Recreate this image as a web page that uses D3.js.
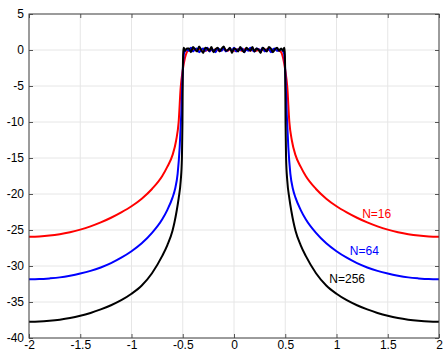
<!DOCTYPE html>
<html>
<head>
<meta charset="utf-8">
<script src="https://cdn.jsdelivr.net/npm/d3@7"></script>
<style>
  body { margin: 0; background: #fff; }
  svg text { font-family: "Liberation Sans", Arial, Helvetica, sans-serif; }
</style>
</head>
<body>
<div id="chart"></div>
<script>
// tick values
const xTicks = [-2, -1.5, -1, -0.5, 0, 0.5, 1, 1.5, 2];
const yTicks = [5, 0, -5, -10, -15, -20, -25, -30, -35, -40];

// passband noise (x from -0.44 to 0.44, step 0.02)
const redFlat = [0.0,-0.1,0.1,0.0,-0.1,0.1,0.0,0.1,-0.1,0.0, 0.1,0.0,-0.1,0.1,0.0,-0.1,0.0,0.1,0.0,-0.1,
  0.1,0.0,-0.1,0.0,0.1,0.0,-0.1,0.1,0.0,0.0, -0.1,0.1,0.0,-0.1,0.1,0.0,0.0,-0.1,0.1,0.0, -0.1,0.0,0.1,0.0,-0.1];
const blueFlat = [-0.1,0.3,-0.2,0.1,0.2,-0.3,0.0,0.2,-0.1,0.3, -0.2,0.1,0.0,-0.3,0.2,0.1,-0.1,0.3,-0.2,0.0,
  0.2,-0.1,0.3,-0.2,0.1,0.0,0.2,-0.3,0.1,-0.1, 0.3,0.0,-0.2,0.2,0.1,-0.1,0.3,-0.2,0.0,0.2, -0.3,0.1,0.2,-0.1,0.0];
const blackFlat = [0.2,-0.3,0.4,0.1,-0.2,0.5,0.0,-0.4,0.3,0.2, -0.1,0.4,-0.3,0.1,0.3,-0.2,0.2,0.5,-0.1,0.0,
  0.3,-0.4,0.2,0.1,-0.2,0.4,0.0,-0.3,0.3,0.1, -0.1,0.4,-0.2,0.2,0.0,-0.4,0.3,0.1,-0.2,0.4, 0.2,-0.3,0.1,0.3,-0.1];

// band edge (right side, the picture is symmetric)
const redEdgeX = [0.46, 0.48, 0.5, 0.52, 0.54, 0.565, 0.6, 0.65];
const redEdgeY = [-0.3, -1.2, -2.8, -5.2, -10, -12.6, -14.6, -16.2];
const blueEdgeX = [0.46, 0.48, 0.49, 0.5, 0.515, 0.53, 0.55, 0.575, 0.6, 0.65];
const blueEdgeY = [0.1, -0.2, -0.6, -3, -9, -13.5, -17.2, -19.3, -20.5, -22.2];
const blackEdgeX = [0.46, 0.48, 0.49, 0.495, 0.5, 0.503, 0.508, 0.52, 0.54, 0.56, 0.58, 0.6, 0.65];
const blackEdgeY = [0.2, -0.1, 0.3, -0.3, -4, -10, -15, -18.2, -20.6, -22.4, -23.9, -25.1, -27.1];

// stopband tails
const tailX = [0.7, 0.8, 0.9, 1.0, 1.1, 1.2, 1.3, 1.4, 1.5, 1.6, 1.7, 1.8, 1.9, 2.0];
const redTail = [-17.5, -19.3, -20.65, -21.7, -22.55, -23.3, -23.95, -24.5, -24.95, -25.3, -25.58, -25.78, -25.9, -25.95];
const blueTail = [-23.5, -25.4, -26.85, -27.95, -28.85, -29.6, -30.2, -30.68, -31.05, -31.35, -31.58, -31.72, -31.82, -31.85];
const blackTail = [-28.6, -31.0, -32.7, -33.85, -34.75, -35.45, -36.03, -36.52, -36.92, -37.23, -37.45, -37.6, -37.7, -37.73];

const labels = [
  {text: "N=16", x: 1.25, y: -23.3, color: "#ff0000"},
  {text: "N=64", x: 1.13, y: -28.5, color: "#0000ff"},
  {text: "N=256", x: 0.93, y: -32.4, color: "#000000"}
];

function buildSeries(flat, edgeX, edgeY, tailY) {
  const rx = edgeX.concat(tailX);
  const ry = edgeY.concat(tailY);
  const right = rx.map((x, i) => [x, ry[i]]);
  const left = right.map(d => [-d[0], d[1]]).reverse();
  const mid = flat.map((v, i) => [-0.44 + 0.02 * i, v]);
  return left.concat(mid, right);
}

const series = [
  {color: "#ff0000", pts: buildSeries(redFlat, redEdgeX, redEdgeY, redTail)},
  {color: "#0000ff", pts: buildSeries(blueFlat, blueEdgeX, blueEdgeY, blueTail)},
  {color: "#000000", pts: buildSeries(blackFlat, blackEdgeX, blackEdgeY, blackTail)}
];

const width = 443, height = 352;
const margin = {top: 14, right: 4, bottom: 14, left: 29};
const w = width - margin.left - margin.right;
const h = height - margin.top - margin.bottom;

const svg = d3.select("#chart").append("svg")
  .attr("width", width)
  .attr("height", height);

const g = svg.append("g")
  .attr("transform", `translate(${margin.left},${margin.top})`);

const x = d3.scaleLinear().domain([-2, 2]).range([0, w]);
const y = d3.scaleLinear().domain([-40, 5]).range([h, 0]);

// grid
g.append("g")
  .selectAll("line.vg")
  .data(xTicks)
  .enter().append("line")
  .attr("x1", d => x(d)).attr("x2", d => x(d))
  .attr("y1", 0).attr("y2", h)
  .attr("stroke", "#e6e6e6");

g.append("g")
  .selectAll("line.hg")
  .data(yTicks)
  .enter().append("line")
  .attr("x1", 0).attr("x2", w)
  .attr("y1", d => y(d)).attr("y2", d => y(d))
  .attr("stroke", "#e6e6e6");

// curves
const line = d3.line()
  .x(d => x(d[0]))
  .y(d => y(d[1]))
  .curve(d3.curveMonotoneX);

g.selectAll("path.curve")
  .data(series)
  .enter().append("path")
  .attr("class", "curve")
  .attr("d", d => line(d.pts))
  .attr("fill", "none")
  .attr("stroke", d => d.color)
  .attr("stroke-width", 2)
  .attr("stroke-linejoin", "round");

// axes, ticks point inward
const fmt = d => String(d);

g.append("g")
  .attr("transform", `translate(0,${h})`)
  .call(d3.axisBottom(x).tickValues(xTicks).tickSize(-4).tickPadding(2).tickFormat(fmt));

g.append("g")
  .call(d3.axisLeft(y).tickValues(yTicks).tickSize(-4).tickPadding(5).tickFormat(fmt));

g.append("g")
  .call(d3.axisTop(x).tickValues(xTicks).tickSize(-4).tickFormat(""));

g.append("g")
  .attr("transform", `translate(${w},0)`)
  .call(d3.axisRight(y).tickValues(yTicks).tickSize(-4).tickFormat(""));

g.selectAll(".domain").remove();
g.selectAll(".tick line").attr("stroke", "#555");
g.selectAll(".tick text")
  .attr("font-size", 12)
  .attr("fill", "#000");

// box
g.append("rect")
  .attr("width", w).attr("height", h)
  .attr("fill", "none")
  .attr("stroke", "#444")
  .attr("stroke-width", 1);

// labels
g.selectAll("text.lbl")
  .data(labels)
  .enter().append("text")
  .attr("class", "lbl")
  .attr("x", d => x(d.x))
  .attr("y", d => y(d.y))
  .attr("fill", d => d.color)
  .attr("font-size", 12)
  .text(d => d.text);
</script>
</body>
</html>
